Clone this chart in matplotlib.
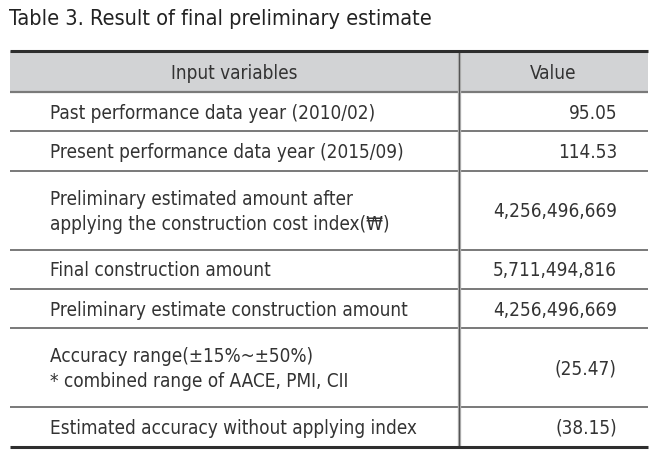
import matplotlib
matplotlib.use("Agg")
from matplotlib import pyplot as plt
from matplotlib.patches import Rectangle

plt.rcParams['font.family'] = ['DejaVu Sans']
plt.rcParams['font.stretch'] = 'condensed'

title = "Table 3. Result of final preliminary estimate"
headers = ["Input variables", "Value"]
variables = [
    "Past performance data year (2010/02)",
    "Present performance data year (2015/09)",
    "Preliminary estimated amount after\napplying the construction cost index(\u20a9)",
    "Final construction amount",
    "Preliminary estimate construction amount",
    "Accuracy range(\u00b115%~\u00b150%)\n* combined range of AACE, PMI, CII",
    "Estimated accuracy without applying index",
]
values = ["95.05", "114.53", "4,256,496,669", "5,711,494,816",
          "4,256,496,669", "(25.47)", "(38.15)"]

W, H = 668, 451
fig = plt.figure(figsize=(W / 100, H / 100), dpi=100)
ax = fig.add_axes([0, 0, 1, 1])
ax.set_xlim(0, W)
ax.set_ylim(H, 0)
ax.axis('off')

left, right, divx = 10, 648, 459
top, head_bot, unit = 51, 92, 39.4
txt_col = '#333333'
fs = 13.6

ax.text(9, 19, title, fontsize=15.6, color='#222222', va='center', ha='left',
        fontstretch='condensed')

# header band
ax.add_patch(Rectangle((left, top), right - left, head_bot - top,
                       facecolor='#d2d3d5', edgecolor='none'))
ax.text((left + divx) / 2, (top + head_bot) / 2 + 2, headers[0], fontsize=fs,
        color=txt_col, ha='center', va='center', fontstretch='condensed')
ax.text((divx + right) / 2, (top + head_bot) / 2 + 2, headers[1], fontsize=fs,
        color=txt_col, ha='center', va='center', fontstretch='condensed')

y = head_bot
bounds = []
for var, val in zip(variables, values):
    n = var.count('\n') + 1
    h = unit * n
    cy = y + h / 2 + 1.5
    ax.text(50, cy, var, fontsize=fs, color=txt_col, ha='left', va='center',
            linespacing=1.4, fontstretch='condensed')
    ax.text(617, cy, val, fontsize=fs, color=txt_col, ha='right', va='center',
            fontstretch='condensed')
    y += h
    bounds.append(y)

# inner row lines
for b in bounds[:-1]:
    ax.plot([left, right], [b, b], color='#6e6e6e', lw=1.3, solid_capstyle='butt')
ax.plot([left, right], [head_bot, head_bot], color='#7a7a7a', lw=1.6,
        solid_capstyle='butt')
# column divider
ax.plot([divx, divx], [top, bounds[-1]], color='#bdbdbd', lw=2.4, solid_capstyle='butt')
ax.plot([divx, divx], [top, bounds[-1]], color='#555555', lw=1.0, solid_capstyle='butt')
# thick top and bottom rules
ax.plot([left, right], [top, top], color='#2e2e2e', lw=2.2, solid_capstyle='butt')
ax.plot([left, right], [bounds[-1], bounds[-1]], color='#2e2e2e', lw=2.2,
        solid_capstyle='butt')

fig.savefig('out.png', dpi=100, facecolor='white')
